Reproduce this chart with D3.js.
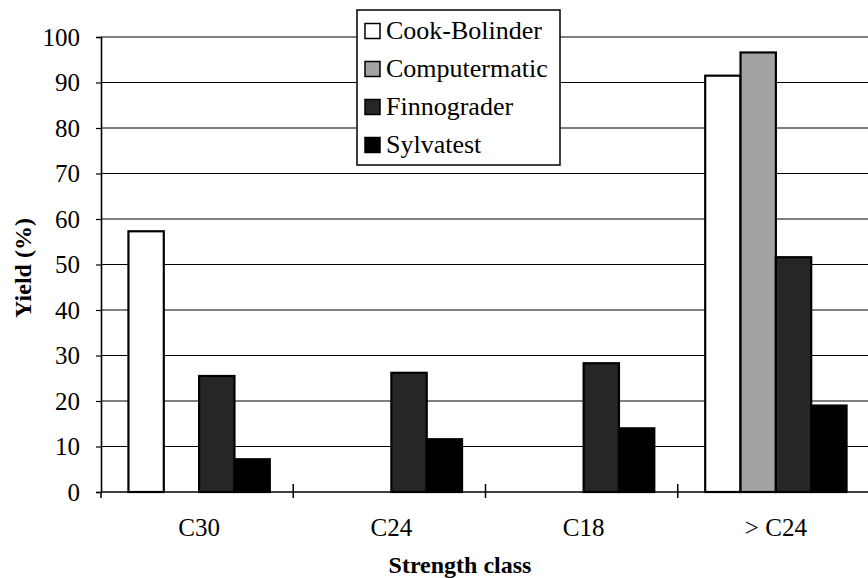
<!DOCTYPE html>
<html>
<head>
<meta charset="utf-8">
<script src="https://cdn.jsdelivr.net/npm/d3@7"></script>
<style>
    body { margin: 0; background: #fff; }
    text { font-family: 'Liberation Serif', 'Times New Roman', serif; fill: #000; }
</style>
</head>
<body>
<script>
const categories = ['C30', 'C24', 'C18', '> C24'];
const series = ['Cook-Bolinder', 'Computermatic', 'Finnograder', 'Sylvatest'];
const cookBolinder = [57.3, 0, 0, 91.5];
const computermatic = [0, 0, 0, 96.6];
const finnograder = [25.5, 26.2, 28.3, 51.6];
const sylvatest = [7.2, 11.6, 14, 19];
const yTicks = [0, 10, 20, 30, 40, 50, 60, 70, 80, 90, 100];

const width = 868;
const height = 578;
const margin = { top: 37, right: -2, bottom: 86, left: 101 };

const fills = ['#ffffff', '#a3a3a3', '#262626', '#000000'];
const values = [cookBolinder, computermatic, finnograder, sylvatest];

const svg = d3.select('body')
    .append('svg')
    .attr('width', width)
    .attr('height', height);

const x0 = d3.scaleBand()
    .domain(categories)
    .range([margin.left, width - margin.right])
    .padding(0);

const x1 = d3.scaleBand()
    .domain(series)
    .range([0, x0.bandwidth()])
    .paddingInner(0)
    .paddingOuter(0.72);

const y = d3.scaleLinear()
    .domain([0, 100])
    .range([height - margin.bottom, margin.top]);

const color = d3.scaleOrdinal().domain(series).range(fills);

// gridlines
svg.append('g')
    .selectAll('line')
    .data(yTicks.filter(d => d > 0))
    .join('line')
    .attr('x1', margin.left)
    .attr('x2', width)
    .attr('y1', d => y(d))
    .attr('y2', d => y(d))
    .attr('stroke', '#000')
    .attr('stroke-width', 1.1);

// bars
const rows = categories.map((c, i) => series.map((s, j) => ({ category: c, name: s, value: values[j][i] })));

svg.append('g')
    .selectAll('g')
    .data(rows)
    .join('g')
    .attr('transform', d => `translate(${x0(d[0].category) + 2},0)`)
    .selectAll('rect')
    .data(d => d.filter(v => v.value > 0))
    .join('rect')
    .attr('x', d => x1(d.name))
    .attr('y', d => y(d.value))
    .attr('width', x1.bandwidth())
    .attr('height', d => y(0) - y(d.value))
    .attr('fill', d => color(d.name))
    .attr('stroke', '#000')
    .attr('stroke-width', 2.2);

// y axis
const yAxis = svg.append('g')
    .attr('transform', `translate(${margin.left},0)`)
    .call(d3.axisLeft(y).tickValues(yTicks).tickSize(5).tickPadding(16));

yAxis.select('.domain').attr('stroke-width', 1.6);
yAxis.selectAll('line').attr('stroke-width', 1.2);
yAxis.selectAll('text')
    .style('font-family', "'Liberation Serif', serif")
    .style('font-size', '25px');

// x axis
const xBase = y(0);
svg.append('line')
    .attr('x1', margin.left)
    .attr('x2', width)
    .attr('y1', xBase)
    .attr('y2', xBase)
    .attr('stroke', '#000')
    .attr('stroke-width', 1.6);

const boundaries = categories.map(c => x0(c)).concat([x0.range()[1]]);
svg.append('g')
    .selectAll('line')
    .data(boundaries)
    .join('line')
    .attr('x1', d => d)
    .attr('x2', d => d)
    .attr('y1', (d, i) => i === 0 ? xBase : xBase - 8)
    .attr('y2', xBase + 6)
    .attr('stroke', '#000')
    .attr('stroke-width', 1.5);

svg.append('g')
    .selectAll('text')
    .data(categories)
    .join('text')
    .attr('x', d => x0(d) + x0.bandwidth() / 2 + 2)
    .attr('y', 536)
    .attr('text-anchor', 'middle')
    .style('font-size', '25px')
    .text(d => d);

// axis titles
svg.append('text')
    .attr('transform', 'translate(31,268) rotate(-90)')
    .attr('text-anchor', 'middle')
    .style('font-size', '24px')
    .style('font-weight', 'bold')
    .text('Yield (%)');

svg.append('text')
    .attr('x', 460)
    .attr('y', 573)
    .attr('text-anchor', 'middle')
    .style('font-size', '24px')
    .style('font-weight', 'bold')
    .text('Strength class');

// legend
const legend = svg.append('g')
    .attr('transform', 'translate(357,10)');

legend.append('rect')
    .attr('width', 203)
    .attr('height', 155)
    .attr('fill', '#fff')
    .attr('stroke', '#000')
    .attr('stroke-width', 1.5);

const item = legend.selectAll('g')
    .data(series)
    .join('g')
    .attr('transform', (d, i) => `translate(8,${21 + i * 38})`);

item.append('rect')
    .attr('x', 0)
    .attr('y', -7.5)
    .attr('width', 15)
    .attr('height', 15)
    .attr('fill', d => color(d))
    .attr('stroke', '#000')
    .attr('stroke-width', 1.5);

item.append('text')
    .attr('x', 21)
    .attr('y', 8)
    .style('font-size', '26px')
    .text(d => d);
</script>
</body>
</html>
